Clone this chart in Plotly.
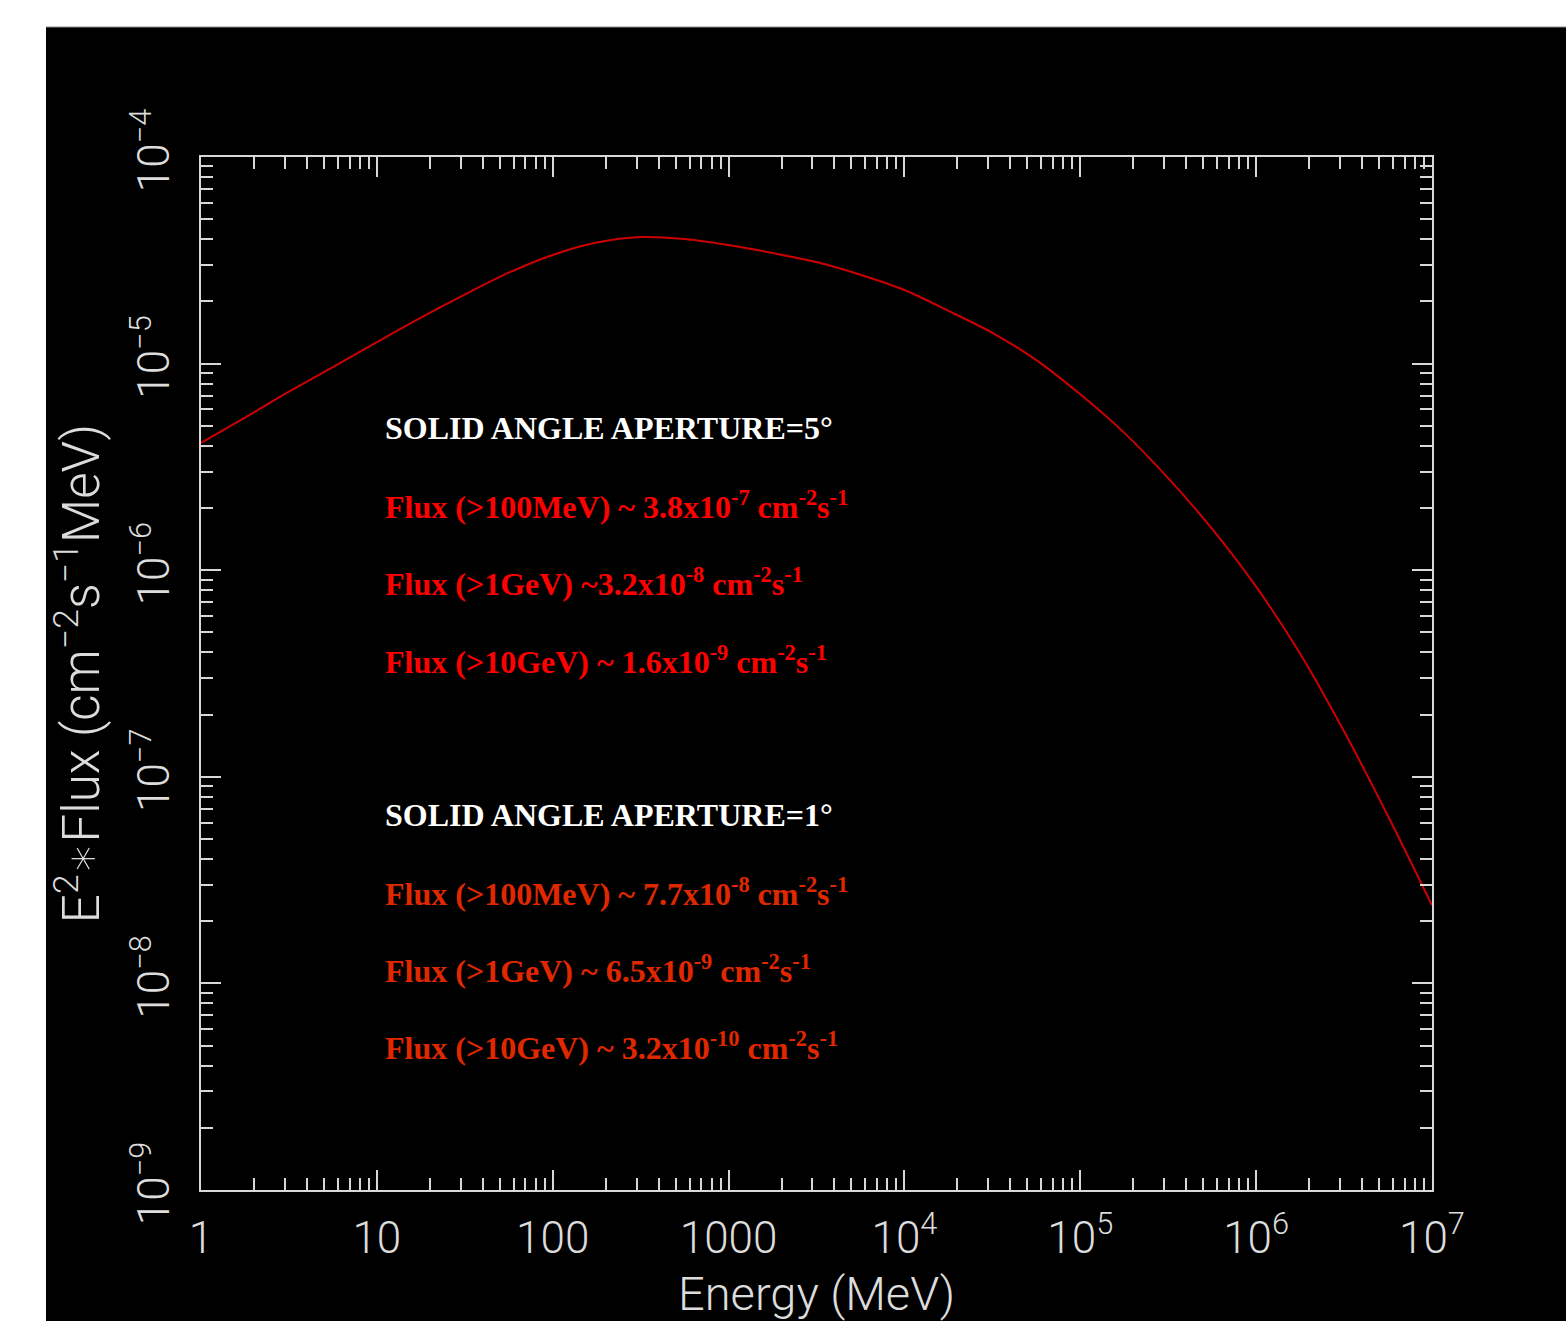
import plotly.graph_objects as go

# ---- data ----
energy_mev = [1, 1.78, 3.16, 5.62, 10, 17.8, 31.6, 56.2, 100, 178, 316, 562,
              1000, 1780, 3160, 5620, 1e4, 1.78e4, 3.16e4, 5.62e4, 1e5, 1.78e5,
              3.16e5, 5.62e5, 1e6, 1.78e6, 3.16e6, 5.62e6, 1e7]
e2_flux = [4.13e-6, 5.48e-6, 7.31e-6, 9.62e-6, 1.27e-5, 1.67e-5, 2.158e-5,
           2.754e-5, 3.357e-5, 3.855e-5, 4.10e-5, 4.01e-5, 3.75e-5, 3.43e-5,
           3.10e-5, 2.69e-5, 2.27e-5, 1.80e-5, 1.41e-5, 1.04e-5, 7.10e-6,
           4.62e-6, 2.79e-6, 1.585e-6, 8.32e-7, 3.94e-7, 1.66e-7, 6.46e-8, 2.39e-8]

x_tickvals = [1, 10, 100, 1000, 1e4, 1e5, 1e6, 1e7]
x_ticktext = ["1", "10", "100", "1000", "10<sup>4</sup>", "10<sup>5</sup>",
              "10<sup>6</sup>", "10<sup>7</sup>"]
y_tickvals = [1e-9, 1e-8, 1e-7, 1e-6, 1e-5, 1e-4]
y_ticktext = ["10<sup>\u22129</sup>", "10<sup>\u22128</sup>", "10<sup>\u22127</sup>",
              "10<sup>\u22126</sup>", "10<sup>\u22125</sup>", "10<sup>\u22124</sup>"]
x_minor = [m * 10 ** k for k in range(0, 7) for m in range(2, 10)]
y_minor = [m * 10.0 ** k for k in range(-9, -4) for m in range(2, 10)]

header_5 = "SOLID ANGLE APERTURE=5\u00b0"
lines_5 = ["Flux (>100MeV) ~ 3.8x10<sup>-7</sup> cm<sup>-2</sup>s<sup>-1</sup>",
           "Flux (>1GeV) ~3.2x10<sup>-8</sup> cm<sup>-2</sup>s<sup>-1</sup>",
           "Flux (>10GeV) ~ 1.6x10<sup>-9</sup> cm<sup>-2</sup>s<sup>-1</sup>"]
header_1 = "SOLID ANGLE APERTURE=1\u00b0"
lines_1 = ["Flux (>100MeV) ~ 7.7x10<sup>-8</sup> cm<sup>-2</sup>s<sup>-1</sup>",
           "Flux (>1GeV) ~ 6.5x10<sup>-9</sup> cm<sup>-2</sup>s<sup>-1</sup>",
           "Flux (>10GeV) ~ 3.2x10<sup>-10</sup> cm<sup>-2</sup>s<sup>-1</sup>"]

W, H = 1566, 1321
L, R, T, B = 201, 134, 157, 131
pw, ph = W - L - R, H - T - B

def px(x):
    return (x - L) / pw

def py(y):
    return (H - B - y) / ph

AX = "#d8d8d8"
LBL = "#dcdcdc"
tickfont = dict(family="Roboto, DejaVu Sans", size=44, color=LBL, weight=300)
xtitlefont = dict(family="Roboto, DejaVu Sans", size=47, color=LBL, weight=300)
ytitlefont = dict(family="Roboto, DejaVu Sans", size=51, color=LBL, weight=300)

fig = go.Figure()
fig.add_trace(go.Scatter(x=energy_mev, y=e2_flux, mode="lines",
                         line=dict(color="#cc0000", width=2, shape="spline", smoothing=0.8),
                         showlegend=False, hoverinfo="skip"))

axis_common = dict(
    showgrid=False, zeroline=False, showline=True, linecolor=AX, linewidth=2,
    mirror="allticks", ticks="inside", ticklen=20, tickwidth=2, tickcolor=AX,
    tickmode="array", tickfont=tickfont,
)

fig.update_xaxes(type="log", range=[0, 7], tickvals=x_tickvals, ticktext=x_ticktext,
                 minor=dict(tickmode="array", tickvals=x_minor, ticks="inside",
                            ticklen=12, tickwidth=2, tickcolor=AX, showgrid=False),
                 ticklabelstandoff=8,
                 title=dict(text="Energy (MeV)", font=xtitlefont, standoff=14),
                 **axis_common)
fig.update_yaxes(type="log", range=[-9, -4], tickvals=y_tickvals, ticktext=y_ticktext,
                 tickangle=-90,
                 minor=dict(tickmode="array", tickvals=y_minor, ticks="inside",
                            ticklen=12, tickwidth=2, tickcolor=AX, showgrid=False),
                 ticklabelstandoff=12,
                 title=dict(text="E<sup>2</sup>\u2217Flux (cm<sup>\u22122</sup>s<sup>\u22121</sup>MeV)",
                            font=ytitlefont, standoff=6),
                 **axis_common)

# background frame: white strips at top and left, thin grey edge
fig.add_shape(type="rect", xref="paper", yref="paper", x0=px(-10), x1=px(W + 10),
              y0=py(27), y1=py(-10), fillcolor="white", line_width=0, layer="below")
fig.add_shape(type="rect", xref="paper", yref="paper", x0=px(-10), x1=px(46),
              y0=py(H + 10), y1=py(-10), fillcolor="white", line_width=0, layer="below")
fig.add_shape(type="line", xref="paper", yref="paper", x0=px(46), x1=px(W + 10),
              y0=py(27), y1=py(27), line=dict(color="#8a8a8a", width=1), layer="below")

serif = "Liberation Serif, Times New Roman, serif"
red1 = "#ff0000"
red2 = "#e02800"
text_x = px(383)
rows = [(header_5, "white", 428), (lines_5[0], red1, 505), (lines_5[1], red1, 582),
        (lines_5[2], red1, 660), (header_1, "white", 815), (lines_1[0], red2, 892),
        (lines_1[1], red2, 969), (lines_1[2], red2, 1046)]
for txt, col, yy in rows:
    fig.add_annotation(text="<b>" + txt + "</b>", xref="paper", yref="paper",
                       x=text_x, y=py(yy), xanchor="left", yanchor="middle",
                       showarrow=False, font=dict(family=serif, size=32, color=col))

fig.update_layout(width=W, height=H, margin=dict(l=L, r=R, t=T, b=B, autoexpand=False),
                  paper_bgcolor="black", plot_bgcolor="black")

fig.write_html("out.html")
